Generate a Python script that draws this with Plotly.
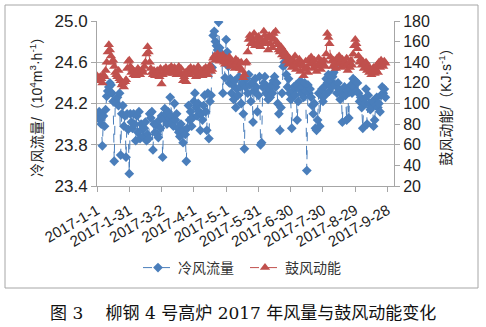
import datetime as dt
import plotly.graph_objects as go

start = dt.date(2017, 1, 1)

# 冷风流量 (10^4 m3/h), daily from 2017-1-1
flow = [
    24.10, 24.06, 24.12, 24.04, 24.00, 23.79, 24.08, 23.98, 24.14, 24.27,
    24.32, 24.36, 24.40, 24.38, 24.30, 24.22, 23.64, 24.24, 24.20, 24.26,
    24.18, 24.30, 23.70, 24.10, 24.18, 23.98, 24.08, 23.68, 24.10, 23.95,
    23.52, 24.10, 24.02, 23.96, 24.10, 24.00, 23.84, 24.08, 23.92, 24.12,
    23.86, 24.00, 23.95, 23.88, 23.96, 24.02, 23.84, 23.90, 23.86, 24.10,
    24.06, 24.12, 23.75, 24.00, 23.92, 24.00, 23.90, 23.87, 24.04, 23.96,
    24.08, 23.68, 24.05, 24.15, 24.10, 24.00, 24.12, 24.05, 24.26, 24.08,
    24.02, 23.98, 24.20, 24.04, 24.10, 23.96, 23.92, 23.88, 24.00, 23.94,
    23.82, 23.94, 23.90, 23.64, 23.96, 24.18, 24.04, 24.12, 23.98, 24.06,
    24.22, 24.30, 24.16, 24.08, 24.20, 24.12, 23.94, 24.10, 24.04, 24.18,
    24.28, 24.12, 23.94, 24.30, 23.86, 24.22, 24.28, 24.55, 24.86, 24.90,
    24.80, 24.76, 24.72, 24.99, 24.74, 24.65, 24.68, 24.30, 24.62, 24.45,
    24.82, 24.70, 24.56, 24.40, 24.44, 24.30, 24.38, 24.24, 24.42, 24.16,
    24.34, 24.28, 24.46, 24.36, 24.20, 24.40, 24.10, 23.76, 24.36, 24.44,
    24.30, 24.48, 24.38, 24.22, 24.40, 24.02, 24.32, 24.44, 24.36, 24.12,
    24.28, 24.46, 23.80, 23.82, 24.36, 24.40, 24.46, 24.30, 24.36, 24.24,
    24.34, 24.26, 24.38, 24.30, 24.42, 24.46, 24.36, 24.40, 24.20, 24.10,
    23.94, 24.16, 24.30, 24.56, 24.60, 24.58, 24.48, 24.36, 24.44, 24.30,
    24.24, 23.96, 24.32, 24.36, 24.28, 24.38, 24.04, 24.22, 24.34, 24.42,
    24.30, 24.36, 24.26, 24.40, 24.32, 23.55, 24.38, 24.30, 24.34, 24.26,
    24.18, 24.10, 24.20, 23.96, 23.94, 24.04, 24.30, 23.98, 24.28, 24.34,
    24.22, 24.36, 24.28, 24.44, 24.40, 24.48, 24.32, 24.42, 24.36, 24.46,
    24.50, 24.38, 24.54, 24.30, 24.40, 24.34, 24.24, 24.30, 24.02, 24.28,
    24.36, 24.28, 24.04, 24.32, 24.06, 24.34, 24.38, 24.30, 24.44, 24.36,
    24.42, 24.32, 24.40, 24.30, 24.22, 24.26, 24.16, 23.96, 24.24, 24.20,
    24.34, 24.00, 24.28, 24.20, 24.14, 24.16, 24.22, 23.98, 24.04, 24.18,
    24.26, 24.16, 24.20, 24.12, 24.28, 24.36, 24.30, 24.34, 24.26,
]

# 鼓风动能 (kJ/s), daily from 2017-1-1
energy = [
    127, 125, 122, 126, 124, 120, 128, 126, 132, 140,
    150, 157, 152, 146, 140, 142, 136, 130, 128, 126,
    132, 124, 122, 118, 120, 116, 121, 123, 134, 141,
    142, 136, 130, 133, 128, 131, 127, 130, 134, 132,
    128, 131, 133, 130, 136, 140, 148, 155, 150, 140,
    134, 130, 128, 132, 127, 129, 132, 130, 126, 134,
    119, 128, 133, 131, 135, 129, 132, 134, 130, 136,
    133, 129, 135, 131, 128, 133, 136, 130, 134, 128,
    122, 126, 130, 121, 129, 133, 128, 135, 131, 129,
    134, 130, 126, 132, 136, 128, 131, 129, 127, 133,
    130, 135, 132, 128, 134, 137, 131, 133, 144, 146,
    142, 145, 148, 144, 141, 146, 143, 147, 140, 138,
    144, 141, 139, 145, 136, 142, 140, 137, 134, 143,
    138, 141, 136, 134, 140, 132, 125, 128, 139, 140,
    150, 162, 166, 158, 164, 160, 168, 156, 163, 159,
    165, 161, 155, 162, 158, 170, 166, 160, 163, 152,
    166, 158, 164, 154, 168, 162, 170, 160, 157, 152,
    150, 155, 147, 152, 145, 149, 141, 146, 138, 144,
    140, 135, 142, 138, 146, 133, 140, 137, 143, 131,
    139, 136, 127, 133, 141, 135, 130, 143, 138, 145,
    140, 134, 142, 137, 131, 136, 144, 139, 133, 141,
    137, 142, 136, 148, 168, 164, 158, 145, 141, 136,
    142, 139, 134, 144, 138, 146, 140, 135, 143, 137,
    141, 136, 144, 132, 139, 135, 142, 137, 148, 156,
    162, 158, 153, 146, 140, 143, 137, 141, 134, 138,
    140, 132, 136, 130, 134, 128, 131, 135, 129, 133,
    137, 130, 140, 135, 142, 138, 136, 141, 139,
]

tick_dates = ["2017-01-01", "2017-01-31", "2017-03-02", "2017-04-01", "2017-05-01",
              "2017-05-31", "2017-06-30", "2017-07-30", "2017-08-29", "2017-09-28"]
tick_labels = ["2017-1-1", "2017-1-31", "2017-3-2", "2017-4-1", "2017-5-1",
               "2017-5-31", "2017-6-30", "2017-7-30", "2017-8-29", "2017-9-28"]

dates_flow = [start + dt.timedelta(days=i) for i in range(len(flow))]
dates_energy = [start + dt.timedelta(days=i) for i in range(len(energy))]

BLUE = "#4A7EBB"
RED = "#C0504D"
FONT = "Liberation Sans, Noto Sans CJK SC, Arial, sans-serif"

fig = go.Figure()
fig.add_trace(go.Scatter(
    x=dates_flow, y=flow, name="冷风流量", mode="lines+markers", legend="legend",
    line=dict(color=BLUE, width=1, dash="dash"),
    marker=dict(symbol="diamond", size=7.5, color=BLUE),
))
fig.add_trace(go.Scatter(
    x=dates_energy, y=energy, name="鼓风动能", mode="lines+markers", yaxis="y2",
    legend="legend2",
    line=dict(color=RED, width=1, dash="dash"),
    marker=dict(symbol="triangle-up", size=9, color=RED),
))

W, H = 486, 327
L, R, T, B = 97, 92, 21, 141
pw, ph = W - L - R, H - T - B

def px(x):
    return (x - L) / pw

def py(y):
    return (H - B - y) / ph

leg_common = dict(orientation="h", yanchor="middle", xanchor="left",
                  font=dict(size=14, color="#333"), itemwidth=30,
                  bgcolor="rgba(0,0,0,0)")

fig.update_layout(
    width=W, height=H,
    margin=dict(l=L, r=R, t=T, b=B),
    paper_bgcolor="white", plot_bgcolor="white",
    font=dict(family=FONT, size=13, color="#222"),
    showlegend=True,
    legend=dict(x=px(138), y=py(268), **leg_common),
    legend2=dict(x=px(245), y=py(268), **leg_common),
    xaxis=dict(
        type="date", range=["2017-01-01", "2017-10-04"],
        tickvals=tick_dates, ticktext=tick_labels, tickangle=-30,
        showgrid=False, showline=True, linecolor="#A6A6A6", linewidth=1,
        ticks="outside", ticklen=5, tickcolor="#A6A6A6", ticklabelstandoff=4,
        tickfont=dict(size=15, color="#222", family="Liberation Sans, Arial"), zeroline=False,
    ),
    yaxis=dict(
        range=[23.4, 25.0], tick0=23.4, dtick=0.4, tickformat=".1f",
        showgrid=True, gridcolor="#B3B3B3", gridwidth=1.3,
        showline=True, linecolor="#A6A6A6", linewidth=1,
        ticks="outside", ticklen=5, tickcolor="#A6A6A6",
        tickfont=dict(size=17, color="#222", family="Liberation Sans, Arial"), zeroline=False,
        title=dict(text="冷风流量/（10<sup>4</sup>m<sup>3</sup>·h<sup>-1</sup>）",
                   font=dict(size=14, color="#222"), standoff=8),
    ),
    yaxis2=dict(
        range=[20, 180], tick0=20, dtick=20, overlaying="y", side="right",
        showgrid=False, showline=True, linecolor="#A6A6A6", linewidth=1,
        ticks="outside", ticklen=5, tickcolor="#A6A6A6",
        tickfont=dict(size=16, color="#222", family="Liberation Sans, Arial"), zeroline=False,
        title=dict(text="鼓风动能/（KJ·s<sup>-1</sup>）",
                   font=dict(size=14, color="#222"), standoff=12),
    ),
    shapes=[dict(type="rect", xref="paper", yref="paper",
                 x0=px(5), x1=px(478), y0=py(288), y1=py(5),
                 line=dict(color="#A6A6A6", width=1), fillcolor="rgba(0,0,0,0)",
                 layer="below")],
    annotations=[dict(text="图 3　 柳钢 4 号高炉 2017 年风量与鼓风动能变化",
                      xref="paper", yref="paper", x=px(243), y=py(313),
                      xanchor="center", yanchor="middle", showarrow=False,
                      font=dict(size=17, color="#111", family="DejaVu Serif, Noto Sans CJK SC"))],
)

fig.write_html("out.html")
